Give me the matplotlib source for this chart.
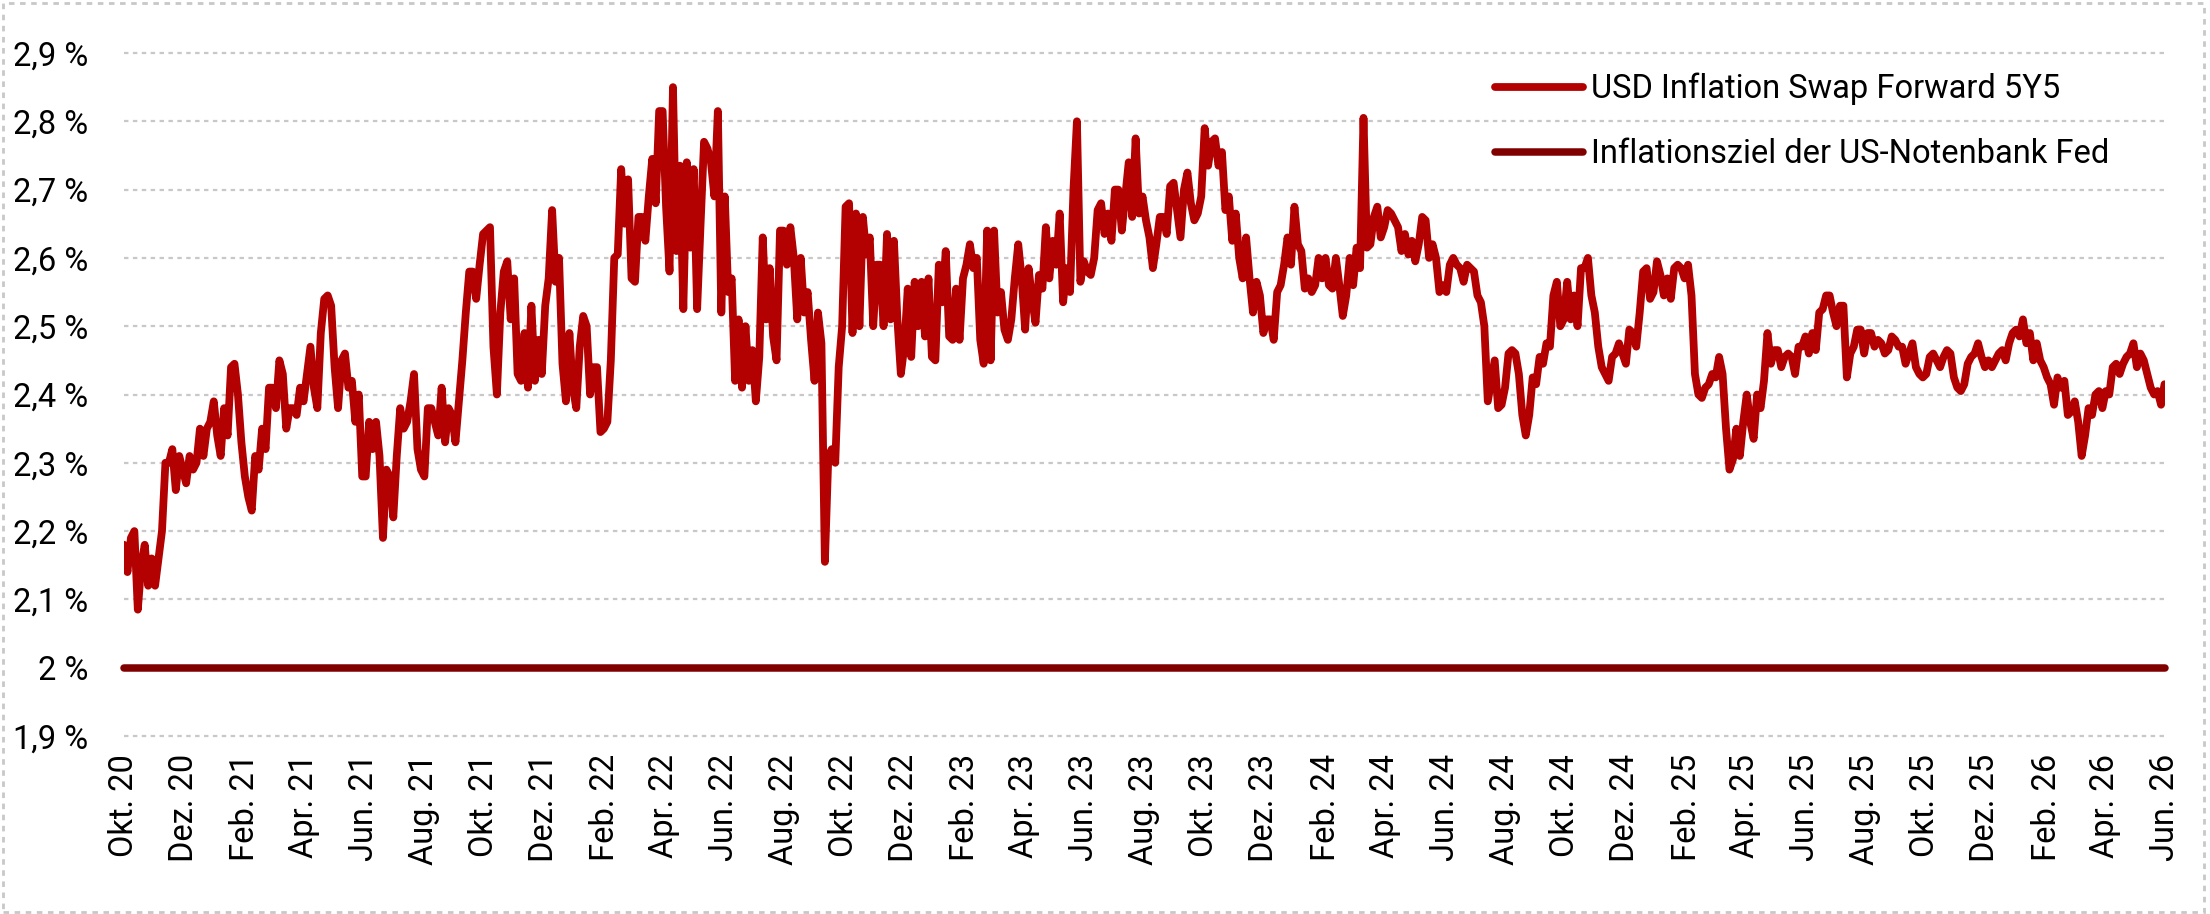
import matplotlib.pyplot as plt
from matplotlib.patches import Rectangle
import pandas as pd

plt.rcParams['font.family'] = ['Roboto', 'DejaVu Sans']

# USD inflation swap forward 5Y5, two points per week
swap_okt20_jul21 = [
    2.18, 2.14, 2.19, 2.20, 2.085, 2.15, 2.18, 2.12, 2.16, 2.12,
    2.16, 2.20, 2.30, 2.30, 2.32, 2.26, 2.31, 2.29, 2.27, 2.31,
    2.29, 2.30, 2.35, 2.31, 2.35, 2.36, 2.39, 2.34, 2.31, 2.38,
    2.34, 2.44, 2.445, 2.40, 2.33, 2.28, 2.25, 2.23, 2.31, 2.29,
    2.35, 2.32, 2.41, 2.41, 2.38, 2.45, 2.43, 2.35, 2.38, 2.38,
    2.37, 2.41, 2.39, 2.43, 2.47, 2.41, 2.38, 2.49, 2.54, 2.545,
    2.53, 2.44, 2.38, 2.45, 2.46, 2.41, 2.42, 2.36, 2.40, 2.28,
    2.28, 2.36, 2.32, 2.36, 2.31, 2.19, 2.29, 2.28, 2.22, 2.31,
    2.38,
]
swap_jul21_apr22 = [
    2.35, 2.36, 2.39, 2.43, 2.32, 2.29, 2.28, 2.38, 2.38, 2.36,
    2.34, 2.41, 2.33, 2.38, 2.37, 2.33, 2.39, 2.45, 2.52, 2.58,
    2.58, 2.54, 2.59, 2.635, 2.64, 2.645, 2.47, 2.40, 2.52, 2.58,
    2.595, 2.51, 2.57, 2.43, 2.42, 2.49, 2.41, 2.53, 2.42, 2.48,
    2.43, 2.53, 2.57, 2.67, 2.565, 2.60, 2.445, 2.39, 2.49, 2.41,
    2.38, 2.47, 2.515, 2.50, 2.40, 2.44, 2.44, 2.345, 2.35, 2.36,
    2.45, 2.60, 2.605, 2.73, 2.65, 2.715, 2.57, 2.565, 2.66, 2.66,
    2.625, 2.69, 2.745, 2.68, 2.815, 2.815, 2.675, 2.58, 2.85, 2.61,
    2.735, 2.525, 2.74, 2.615, 2.73, 2.525,
]
swap_apr22_jan23 = [
    2.65, 2.77, 2.76, 2.74,
    2.69, 2.815, 2.52, 2.69, 2.55, 2.57, 2.42, 2.51, 2.41, 2.50,
    2.42, 2.465, 2.39, 2.455, 2.63, 2.51, 2.585, 2.485, 2.45, 2.64,
    2.64, 2.59, 2.645, 2.60, 2.51, 2.60, 2.52, 2.55, 2.48, 2.42,
    2.52, 2.475, 2.155, 2.31, 2.32, 2.30, 2.44, 2.50, 2.675, 2.68,
    2.49, 2.665, 2.50, 2.66, 2.605, 2.63, 2.50, 2.59, 2.59, 2.50,
    2.635, 2.51, 2.625, 2.51, 2.43, 2.47, 2.555, 2.455, 2.565, 2.50,
    2.565, 2.485, 2.57, 2.455, 2.45, 2.59, 2.535, 2.61, 2.485, 2.48,
    2.555, 2.48, 2.57, 2.59, 2.62, 2.585, 2.60, 2.48, 2.445, 2.64,
]
swap_jan23_nov23 = [
    2.45, 2.64, 2.52, 2.55, 2.495, 2.48, 2.51, 2.57, 2.62, 2.57,
    2.495, 2.585, 2.54, 2.505, 2.575, 2.555, 2.645, 2.57, 2.625, 2.59,
    2.665, 2.535, 2.585, 2.55, 2.70, 2.80, 2.565, 2.595, 2.58, 2.575,
    2.60, 2.67, 2.68, 2.635, 2.665, 2.625, 2.70, 2.70, 2.64, 2.69,
    2.74, 2.66, 2.775, 2.665, 2.69, 2.655, 2.63, 2.585, 2.62, 2.66,
    2.66, 2.635, 2.705, 2.71, 2.67, 2.63, 2.70, 2.725, 2.68, 2.655,
    2.665, 2.69, 2.79, 2.735, 2.77, 2.775, 2.735, 2.755, 2.67, 2.69,
    2.625, 2.665, 2.60, 2.57, 2.63, 2.57, 2.52, 2.565, 2.545, 2.49,
    2.51, 2.51, 2.48, 2.55, 2.56, 2.59,
]
swap_nov23_jan25 = [
    2.63, 2.59, 2.675, 2.62,
    2.61, 2.555, 2.57, 2.55, 2.56, 2.60, 2.57, 2.60, 2.56, 2.555,
    2.60, 2.56, 2.515, 2.545, 2.60, 2.56, 2.615, 2.585, 2.805, 2.615,
    2.62, 2.66, 2.675, 2.63, 2.645, 2.67, 2.665, 2.655, 2.645, 2.61,
    2.635, 2.605, 2.625, 2.595, 2.62, 2.66, 2.655, 2.60, 2.62, 2.60,
    2.55, 2.56, 2.55, 2.59, 2.60, 2.59, 2.585, 2.565, 2.59, 2.585,
    2.58, 2.545, 2.535, 2.50, 2.39, 2.42, 2.45, 2.38, 2.385, 2.41,
    2.46, 2.465, 2.46, 2.43, 2.37, 2.34, 2.37, 2.425, 2.415, 2.455,
    2.445, 2.475, 2.47, 2.545, 2.565, 2.50, 2.51, 2.565, 2.51, 2.545,
    2.50, 2.585,
]
swap_jan25_sep25 = [
    2.585, 2.60, 2.545, 2.52, 2.47, 2.44, 2.43, 2.42,
    2.455, 2.46, 2.475, 2.46, 2.445, 2.495, 2.49, 2.47, 2.52, 2.58,
    2.585, 2.54, 2.55, 2.595, 2.575, 2.545, 2.57, 2.54, 2.585, 2.59,
    2.585, 2.57, 2.59, 2.545, 2.43, 2.40, 2.395, 2.41, 2.415, 2.43,
    2.425, 2.455, 2.43, 2.35, 2.29, 2.305, 2.35, 2.31, 2.36, 2.40,
    2.36, 2.335, 2.40, 2.38, 2.42, 2.49, 2.445, 2.465, 2.465, 2.44,
    2.455, 2.46, 2.455, 2.43, 2.47, 2.47, 2.485, 2.46, 2.49, 2.465,
    2.52, 2.525, 2.545, 2.545, 2.52, 2.50, 2.53, 2.53, 2.425, 2.46,
    2.47, 2.495, 2.495, 2.46, 2.49, 2.49,
]
swap_sep25_jun26 = [
    2.47, 2.48, 2.475, 2.46,
    2.465, 2.485, 2.48, 2.47, 2.47, 2.445, 2.46, 2.475, 2.44, 2.43,
    2.425, 2.43, 2.455, 2.46, 2.45, 2.44, 2.455, 2.465, 2.46, 2.425,
    2.41, 2.405, 2.415, 2.445, 2.455, 2.46, 2.475, 2.455, 2.44, 2.45,
    2.44, 2.45, 2.46, 2.465, 2.45, 2.475, 2.49, 2.495, 2.485, 2.51,
    2.475, 2.49, 2.45, 2.475, 2.45, 2.44, 2.425, 2.415, 2.385, 2.425,
    2.41, 2.42, 2.37, 2.375, 2.39, 2.36, 2.31, 2.34, 2.38, 2.37,
    2.40, 2.405, 2.38, 2.405, 2.40, 2.44, 2.445, 2.43, 2.445, 2.455,
    2.46, 2.475, 2.44, 2.46, 2.45, 2.43, 2.41, 2.40, 2.405, 2.385, 2.415,
]

FED_TARGET = 2.0
START = '2020-10-01'
END = '2026-06-01'
Y_TICKS = [1.9, 2.0, 2.1, 2.2, 2.3, 2.4, 2.5, 2.6, 2.7, 2.8, 2.9]
MONTHS_DE = {2: 'Feb.', 4: 'Apr.', 6: 'Jun.', 8: 'Aug.', 10: 'Okt.', 12: 'Dez.'}
SERIES_LABEL = 'USD Inflation Swap Forward 5Y5'
TARGET_LABEL = 'Inflationsziel der US-Notenbank Fed'

RED = '#b30000'
DARK_RED = '#800000'
GRID = '#c8c8c8'
FS = 23.5

swap = (swap_okt20_jul21 + swap_jul21_apr22 + swap_apr22_jan23 + swap_jan23_nov23
        + swap_nov23_jan25 + swap_jan25_sep25 + swap_sep25_jun26)
dates = pd.date_range(START, periods=len(swap), freq='84h')
x_ticks = pd.date_range(START, END, freq='2MS')
x_labels = ['%s %02d' % (MONTHS_DE[d.month], d.year % 100) for d in x_ticks]


def pct_label(v):
    s = ('%.1f' % v).rstrip('0').rstrip('.')
    return s.replace('.', ',') + ' %'


W, H = 2210, 914
fig = plt.figure(figsize=(W / 100, H / 100), dpi=100)
ax = fig.add_axes([124 / W, 178 / H, (2165 - 124) / W, (861 - 178) / H])

ax.plot(dates, swap, color=RED, lw=5.6, solid_capstyle='round',
        solid_joinstyle='round', label=SERIES_LABEL, zorder=3)
ax.plot([pd.Timestamp(START), pd.Timestamp(END)], [FED_TARGET, FED_TARGET],
        color=DARK_RED, lw=5.4, solid_capstyle='round', label=TARGET_LABEL,
        zorder=3, clip_on=False)

ax.set_xlim(pd.Timestamp(START), pd.Timestamp(END))
ax.set_ylim(Y_TICKS[0], Y_TICKS[-1])
ax.set_yticks(Y_TICKS)
ax.set_yticklabels([pct_label(v) for v in Y_TICKS], fontsize=FS)
ax.set_xticks(x_ticks)
ax.set_xticklabels(x_labels, rotation=90, ha='center', va='top', fontsize=FS)
ax.tick_params(axis='y', length=0, pad=26)
ax.tick_params(axis='x', length=0, pad=13)

ax.yaxis.grid(True, color=GRID, linestyle=(0, (2, 2)), linewidth=1.6)
ax.xaxis.grid(False)
for gl in ax.get_ygridlines():
    gl.set_clip_on(False)
ax.set_axisbelow(True)
for sp in ax.spines.values():
    sp.set_visible(False)

ax.legend(loc='upper left', bbox_to_anchor=(1495 / W, 1 - 73 / H),
          bbox_transform=fig.transFigure, frameon=False, fontsize=FS,
          handlelength=2.7, handletextpad=0.25, borderpad=0,
          borderaxespad=0, labelspacing=1.0)

fig.patches.append(Rectangle((0.0015, 0.002), 0.996, 0.995, transform=fig.transFigure,
                             fill=False, edgecolor=GRID, lw=2,
                             linestyle=(0, (2, 2))))

fig.savefig('out.png', dpi=100)
